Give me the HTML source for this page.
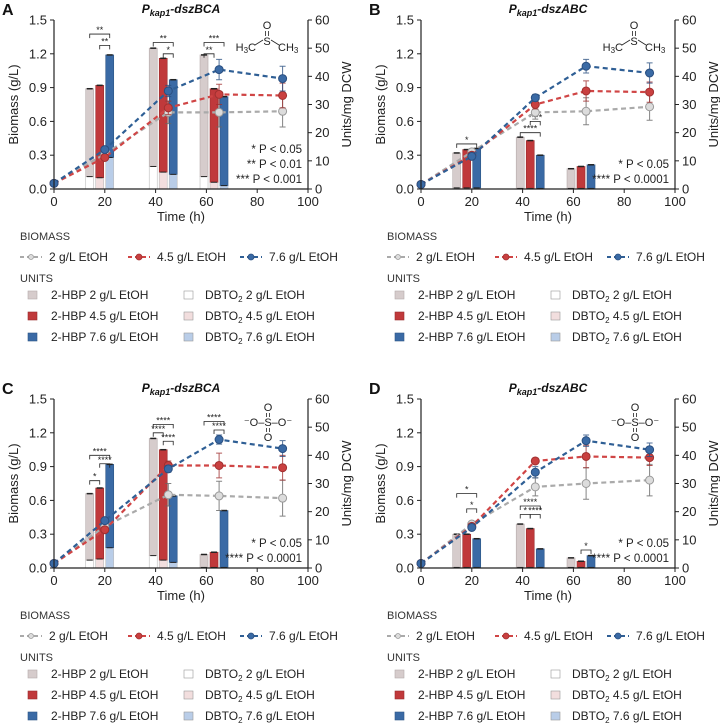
<!DOCTYPE html>
<html><head><meta charset="utf-8"><style>
body{margin:0;background:#fff}
svg{display:block;font-family:"Liberation Sans",Arial,sans-serif}
</style></head><body>
<svg id="fig" width="720" height="726" viewBox="0 0 720 726"></svg>
<script>
// ---------- DATA ----------
const lineTimes=[0,20,45,65,90];
const barTimes=[18,43,63];
const xTicks=[0,20,40,60,80,100];
const yTicksLeft=[0,0.3,0.6,0.9,1.2,1.5];
const yTickLabelsLeft=["0.0","0.3","0.6","0.9","1.2","1.5"];
const yTicksRight=[0,10,20,30,40,50,60];
const seriesNames=["2 g/L EtOH","4.5 g/L EtOH","7.6 g/L EtOH"];
// panel A biomass
const aBio2=[0.05,0.31,0.68,0.68,0.69];
const aBio45=[0.05,0.28,0.72,0.84,0.83];
const aBio76=[0.05,0.35,0.87,1.06,0.98];
const aErr2=[0,0.02,0.1,0.13,0.14];
const aErr45=[0,0.01,0.06,0.09,0.11];
const aErr76=[0,0.01,0.05,0.09,0.11];
const aHbp2=[31.2,42,43.2], aHbp45=[32.8,40.4,33.2], aHbp76=[36.4,33.6,31.6];
const aDbto2=[4.4,8,4.4], aDbto45=[4,6,2.4], aDbto76=[11.2,5.2,1.2];
// panel B
const bBio2=[0.04,0.33,0.68,0.69,0.73];
const bBio45=[0.04,0.30,0.75,0.87,0.86];
const bBio76=[0.04,0.29,0.81,1.09,1.03];
const bErr2=[0,0.02,0.06,0.12,0.12];
const bErr45=[0,0.02,0.04,0.09,0.09];
const bErr76=[0,0.01,0.03,0.06,0.09];
const bHbp2=[12.4,18.2,7.0], bHbp45=[13.6,17.0,7.8], bHbp76=[14.0,11.8,8.4];
const bDbto2=[0.4,0.2,0.2], bDbto45=[0.4,0.2,0.2], bDbto76=[0.4,0.2,0.2];
// panel C
const cBio2=[0.04,0.37,0.65,0.64,0.62];
const cBio45=[0.04,0.34,0.91,0.91,0.89];
const cBio76=[0.04,0.42,0.88,1.14,1.06];
const cErr2=[0,0.02,0.1,0.13,0.16];
const cErr45=[0,0.02,0.04,0.11,0.11];
const cErr76=[0,0.02,0.03,0.04,0.07];
const cHbp2=[23.6,41.6,4.6], cHbp45=[25.2,39.2,5.4], cHbp76=[29.6,23.6,20.2];
const cDbto2=[2.8,4.4,0.2], cDbto45=[3.2,2.8,0.2], cDbto76=[7.2,2,0.2];
// panel D
const dBio2=[0.04,0.39,0.72,0.75,0.78];
const dBio45=[0.04,0.37,0.95,0.99,0.98];
const dBio76=[0.04,0.36,0.85,1.13,1.05];
const dErr2=[0,0.02,0.08,0.14,0.14];
const dErr45=[0,0.01,0.02,0.1,0.07];
const dErr76=[0,0.02,0.05,0.05,0.06];
const dHbp2=[11.8,15.4,3.4], dHbp45=[11.8,13.8,2.2], dHbp76=[10.2,6.6,4.2];
const dDbto2=[0.2,0.2,0.2], dDbto45=[0.2,0.2,0.2], dDbto76=[0.2,0.2,0.2];
// significance brackets: [group, barFrom, barTo, units level, label]
const aSig=[[0,0,2,55,"**"],[0,1,2,51,"**"],[1,0,2,52,"**"],[1,1,2,48,"*"],[2,0,2,52,"***"],[2,0,1,48,"**"]];
const bSig=[[0,0,2,16,"*"],[1,0,2,20,"****"],[1,1,2,24,"****"]];
const cSig=[[0,0,1,31,"*"],[0,0,2,40,"****"],[0,1,2,37,"****"],[1,0,2,51,"****"],[1,0,1,48,"****"],[1,1,2,45,"****"],[2,0,2,52,"****"],[2,1,2,49,"****"]];
const dSig=[[0,0,2,26.4,"*"],[0,1,2,21,"*"],[1,0,2,22,"****"],[1,0,1,19,"*"],[1,1,2,19,"****"],[2,1,2,6.4,"*"]];

// ---------- DRAW ----------
const NS="http://www.w3.org/2000/svg";
const svg=document.getElementById('fig');
function mk(tag,attrs,parent,text){const e=document.createElementNS(NS,tag);for(const k in attrs)e.setAttribute(k,attrs[k]);if(text!==undefined)e.textContent=text;(parent||svg).appendChild(e);return e;}
const lineCol=["#aaaaaa","#d04545","#2f5f95"];
const markFill=["#dcdcdc","#c94040","#3a6aa5"];
const markStroke=["#999","#a03030","#2a4f80"];
const hbpCol=["#d6cccc","#c0393b","#3a6aa5"];
const hbpStroke=["#b5aaaa","#9a2c2e","#2d5585"];
const dbtoCol=["#ffffff","#f2dede","#b9cde8"];

const panels=[
 {L:"A",title:"-dszBCA",ox:0,oy:0,bio:[aBio2,aBio45,aBio76],err:[aErr2,aErr45,aErr76],hbp:[aHbp2,aHbp45,aHbp76],dbto:[aDbto2,aDbto45,aDbto76],sig:aSig,pv:["* P < 0.05","** P < 0.01","*** P < 0.001"],chem:"dmso"},
 {L:"B",title:"-dszABC",ox:367,oy:0,bio:[bBio2,bBio45,bBio76],err:[bErr2,bErr45,bErr76],hbp:[bHbp2,bHbp45,bHbp76],dbto:[bDbto2,bDbto45,bDbto76],sig:bSig,pv:["* P < 0.05","**** P < 0.0001"],chem:"dmso"},
 {L:"C",title:"-dszBCA",ox:0,oy:379,bio:[cBio2,cBio45,cBio76],err:[cErr2,cErr45,cErr76],hbp:[cHbp2,cHbp45,cHbp76],dbto:[cDbto2,cDbto45,cDbto76],sig:cSig,pv:["* P < 0.05","**** P < 0.0001"],chem:"so4"},
 {L:"D",title:"-dszABC",ox:367,oy:379,bio:[dBio2,dBio45,dBio76],err:[dErr2,dErr45,dErr76],hbp:[dHbp2,dHbp45,dHbp76],dbto:[dDbto2,dDbto45,dDbto76],sig:dSig,pv:["* P < 0.05","**** P < 0.0001"],chem:"so4"}
];

panels.forEach(p=>{
 const g=mk('g',{transform:`translate(${p.ox},${p.oy})`});
 
 
 const x0=54,x1=308,yT=20,yB=189;
 const X=t=>x0+(x1-x0)*t/100;
 const YL=v=>yB-(yB-yT)*v/1.5;
 const YR=v=>yB-(yB-yT)*v/60;
 const lbl=mk('text',{x:2,y:15,'font-size':16,'font-weight':'bold',fill:'#111'},g,p.L);
 
 const tt=mk('text',{x:181,y:13,'font-size':12,'font-weight':'bold','font-style':'italic','text-anchor':'middle',fill:'#111'},g);
 
 mk('tspan',{},tt,'P');mk('tspan',{'font-size':9,dy:3},tt,'kap1');mk('tspan',{dy:-3},tt,p.title);
 // bars
 for(let gi=0;gi<3;gi++){for(let s=0;s<3;s++){
  const cx=X(barTimes[gi])+(s-1)*10;
  const d=p.dbto[s][gi],h=p.hbp[s][gi];
  const r1=mk('rect',{x:cx-4,y:YR(d),width:8,height:YR(0)-YR(d),fill:dbtoCol[s],stroke:'#bbb','stroke-width':0.6},g);
  
  const r2=mk('rect',{x:cx-4,y:YR(d+h),width:8,height:YR(d)-YR(d+h),fill:hbpCol[s],stroke:hbpStroke[s],'stroke-width':0.6},g);
  
  mk('line',{x1:cx-3,x2:cx+3,y1:YR(d+h),y2:YR(d+h),stroke:'#222','stroke-width':1.5},g);
  mk('line',{x1:cx-3,x2:cx+3,y1:YR(d),y2:YR(d),stroke:'#222','stroke-width':1},g);
 }}
 // significance
 p.sig.forEach(sg=>{
  const xa=X(barTimes[sg[0]])+(sg[1]-1)*10,xb=X(barTimes[sg[0]])+(sg[2]-1)*10,y=YR(sg[3]);
  const br=mk('path',{d:`M${xa},${y+4}V${y}H${xb}V${y+4}`,fill:'none',stroke:'#222','stroke-width':0.8},g);
  
  mk('text',{x:(xa+xb)/2,y:y-1,'font-size':9,'text-anchor':'middle',fill:'#222'},g,sg[4]);
 });
 // lines
 for(let s=0;s<3;s++){
  const pts=lineTimes.map((t,i)=>X(t)+','+YL(p.bio[s][i])).join(' ');
  const pl=mk('polyline',{points:pts,fill:'none',stroke:lineCol[s],'stroke-width':2.2,'stroke-dasharray':'5,3.5'},g);
  
  lineTimes.forEach((t,i)=>{
   const e=p.err[s][i],v=p.bio[s][i];
   if(e>0){mk('path',{d:`M${X(t)},${YL(v-e)}V${YL(v+e)}M${X(t)-3},${YL(v-e)}h6M${X(t)-3},${YL(v+e)}h6`,stroke:s==0?'#666':markStroke[s],'stroke-width':1,opacity:0.8},g);}
   const c=mk('circle',{cx:X(t),cy:YL(v),r:4,fill:markFill[s],stroke:markStroke[s],'stroke-width':1},g);
   
  });
 }
 // axes
 const ax=mk('path',{d:`M${x0},${yT}V${yB}H${x1}V${yT}`,fill:'none',stroke:'#222','stroke-width':1.2},g);
 
 yTicksLeft.forEach((v,i)=>{mk('line',{x1:x0-4,x2:x0,y1:YL(v),y2:YL(v),stroke:'#222'},g);mk('text',{x:x0-7,y:YL(v)+4.5,'font-size':13,'text-anchor':'end',fill:'#222'},g,yTickLabelsLeft[i]);});
 yTicksRight.forEach(v=>{mk('line',{x1:x1,x2:x1+4,y1:YR(v),y2:YR(v),stroke:'#222'},g);mk('text',{x:x1+7,y:YR(v)+4.5,'font-size':13,fill:'#222'},g,String(v));});
 xTicks.forEach(v=>{mk('line',{x1:X(v),x2:X(v),y1:yB,y2:yB+4,stroke:'#222'},g);mk('text',{x:X(v),y:yB+17,'font-size':13,'text-anchor':'middle',fill:'#222'},g,String(v));});
 const xt=mk('text',{x:181,y:yB+32,'font-size':13,'text-anchor':'middle',fill:'#222'},g,'Time (h)');
 
 const yl=mk('text',{transform:`translate(18,${(yT+yB)/2}) rotate(-90)`,'font-size':13,'text-anchor':'middle',fill:'#222'},g,'Biomass (g/L)');
 
 const yr=mk('text',{transform:`translate(${x1+43},${(yT+yB)/2}) rotate(-90)`,'font-size':13,'text-anchor':'middle',fill:'#222'},g,'Units/mg DCW');
 
 // p values
 p.pv.forEach((t,i)=>{mk('text',{x:x1-6,y:yB-6-(p.pv.length-1-i)*15,'font-size':11.5,'text-anchor':'end',fill:'#222'},g,t);});
 // chem
 const ch=mk('g',{},g);
 
 if(p.chem==="dmso"){
  mk('text',{x:267,y:29,'font-size':11,'text-anchor':'middle',fill:'#222'},ch,'O');
  mk('line',{x1:265.5,x2:265.5,y1:31,y2:36,stroke:'#222','stroke-width':0.8},ch);
  mk('line',{x1:268.5,x2:268.5,y1:31,y2:36,stroke:'#222','stroke-width':0.8},ch);
  mk('text',{x:267,y:45,'font-size':11,'text-anchor':'middle',fill:'#222'},ch,'S');
  const t1=mk('text',{x:256,y:51,'font-size':11,'text-anchor':'end',fill:'#222'},ch);
  mk('tspan',{},t1,'H');mk('tspan',{'font-size':8,dy:2},t1,'3');mk('tspan',{dy:-2},t1,'C');
  const t2=mk('text',{x:278,y:51,'font-size':11,fill:'#222'},ch);
  mk('tspan',{},t2,'CH');mk('tspan',{'font-size':8,dy:2},t2,'3');
  mk('line',{x1:255,x2:263,y1:45,y2:40,stroke:'#222','stroke-width':0.8},ch);
  mk('line',{x1:271,x2:279,y1:40,y2:45,stroke:'#222','stroke-width':0.8},ch);
 } else {
  mk('text',{x:268,y:32,'font-size':11,'text-anchor':'middle',fill:'#222'},ch,'O');
  mk('text',{x:268,y:47,'font-size':11,'text-anchor':'middle',fill:'#222'},ch,'⁻O–S–O⁻');
  mk('text',{x:268,y:62,'font-size':11,'text-anchor':'middle',fill:'#222'},ch,'O');
  mk('line',{x1:266.5,x2:266.5,y1:34,y2:38,stroke:'#222','stroke-width':0.8},ch);mk('line',{x1:269.5,x2:269.5,y1:34,y2:38,stroke:'#222','stroke-width':0.8},ch);
  mk('line',{x1:266.5,x2:266.5,y1:49,y2:53,stroke:'#222','stroke-width':0.8},ch);mk('line',{x1:269.5,x2:269.5,y1:49,y2:53,stroke:'#222','stroke-width':0.8},ch);
 }
 // legend
 mk('text',{x:20,y:240,'font-size':11,fill:'#333'},g,'BIOMASS');
 const lx=[20,128,240];
 for(let s=0;s<3;s++){
  const le=mk('g',{},g);
  
  mk('line',{x1:lx[s],x2:lx[s]+22,y1:257,y2:257,stroke:lineCol[s],'stroke-width':2,'stroke-dasharray':'4,3'},le);
  mk('circle',{cx:lx[s]+11,cy:257,r:s==0?2.5:3,fill:markFill[s],stroke:markStroke[s],'stroke-width':0.8},le);
  mk('text',{x:lx[s]+29,y:261,'font-size':12,fill:'#222'},le,seriesNames[s]);
 }
 mk('text',{x:20,y:282,'font-size':11,fill:'#333'},g,'UNITS');
 for(let s=0;s<3;s++){
  const yy=299+s*21;
  const l1=mk('g',{},g);
  
  mk('rect',{x:28,y:yy-8,width:9,height:8,fill:hbpCol[s],stroke:hbpStroke[s],'stroke-width':0.6},l1);
  mk('text',{x:51,y:yy,'font-size':12,fill:'#222'},l1,'2-HBP '+seriesNames[s]);
  const l2=mk('g',{},g);
  
  mk('rect',{x:184,y:yy-8,width:9,height:8,fill:dbtoCol[s],stroke:'#999','stroke-width':0.6},l2);
  const t=mk('text',{x:205,y:yy,'font-size':12,fill:'#222'},l2);
  mk('tspan',{},t,'DBTO');mk('tspan',{'font-size':8,dy:3},t,'2');mk('tspan',{dy:-3},t,' '+seriesNames[s]);
 }
});
</script>
</body></html>
